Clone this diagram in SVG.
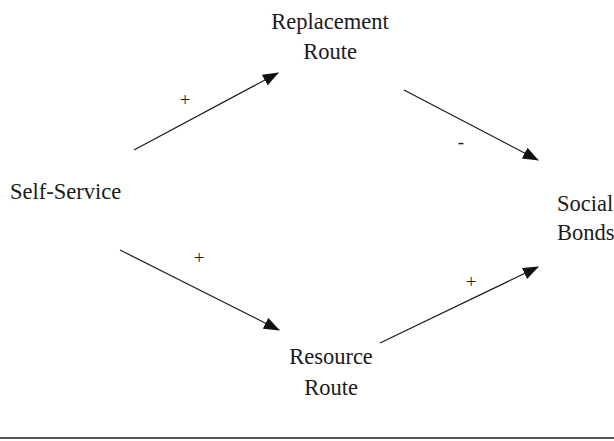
<svg xmlns="http://www.w3.org/2000/svg" width="614" height="441" viewBox="0 0 614 441">
  <style>
    .lbl { font-family: "Liberation Serif", "Times New Roman", serif; font-size: 22.5px; fill: #1a1a1a; }
    .sign { font-family: "Liberation Serif", "Times New Roman", serif; font-size: 19px; fill: #1a1a1a; text-anchor: middle; }
    .edge { stroke: #1a1a1a; stroke-width: 1.2; fill: none; marker-end: url(#head); }
  </style>
  <defs>
    <marker id="head" viewBox="0 0 16 12" refX="15" refY="6" markerWidth="16" markerHeight="12" markerUnits="userSpaceOnUse" orient="auto">
      <path d="M0,0 L16,6 L0,12 Z" fill="#111"/>
    </marker>
  </defs>

  <g id="replacement-route">
    <text class="lbl" x="330" y="29" text-anchor="middle">Replacement</text>
    <text class="lbl" x="330" y="59" text-anchor="middle">Route</text>
  </g>
  <g id="self-service">
    <text class="lbl" x="10" y="199">Self-Service</text>
  </g>
  <g id="social-bonds">
    <text class="lbl" x="557" y="211">Social</text>
    <text class="lbl" x="557" y="240">Bonds</text>
  </g>
  <g id="resource-route">
    <text class="lbl" x="331" y="364" text-anchor="middle">Resource</text>
    <text class="lbl" x="331" y="395" text-anchor="middle">Route</text>
  </g>

  <g id="connectors">
    <line class="edge" x1="134" y1="150" x2="278" y2="73"/>
    <line class="edge" x1="404" y1="90" x2="538" y2="160"/>
    <line class="edge" x1="120" y1="250" x2="279" y2="330"/>
    <line class="edge" x1="380" y1="343" x2="538" y2="267"/>
    <text class="sign" x="185" y="106">+</text>
    <text class="sign" x="461" y="148">-</text>
    <text class="sign" x="199" y="264">+</text>
    <text class="sign" x="471" y="288">+</text>
  </g>

  <line x1="0" y1="438" x2="614" y2="438" stroke="#555" stroke-width="2"/>
</svg>
